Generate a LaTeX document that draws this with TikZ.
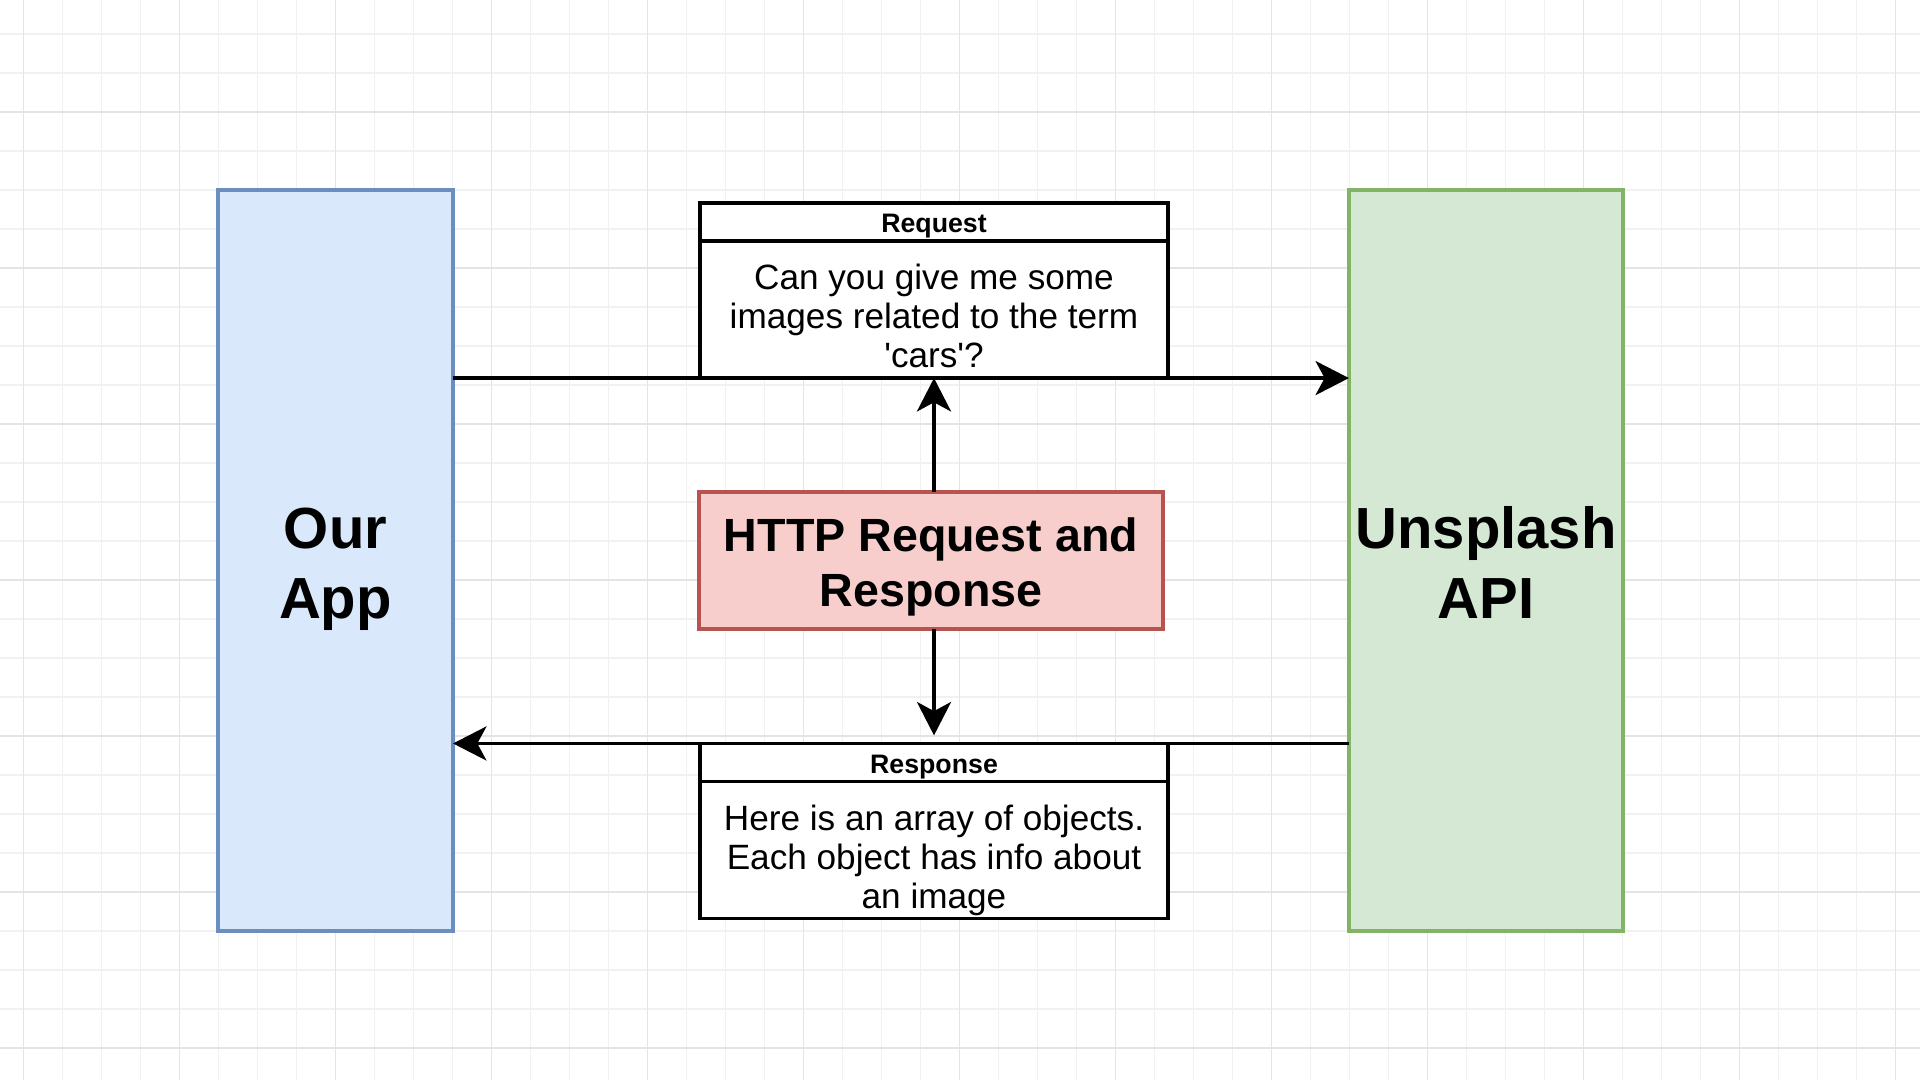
\documentclass[tikz,border=0pt]{standalone}
\usepackage{fontspec}
\setmainfont{Liberation Sans}
\usetikzlibrary{positioning,arrows.meta}

\definecolor{appfill}{HTML}{DAE8FC}
\definecolor{appline}{HTML}{6C8EBF}
\definecolor{apifill}{HTML}{D5E8D4}
\definecolor{apiline}{HTML}{82B366}
\definecolor{httpfill}{HTML}{F8CECC}
\definecolor{httpline}{HTML}{B85450}
\definecolor{gridminor}{HTML}{F1F1F1}
\definecolor{gridmajor}{HTML}{E4E4E4}

\newcommand\ftop[1][1em]{\rule{0pt}{#1}}
\newcommand\fbot{\rule[-0.2em]{0pt}{0pt}}

\begin{document}
\begin{tikzpicture}[x=0.01cm, y=-0.01cm,
  every node/.style = {shape=rectangle, inner sep=0pt, outer sep=0pt, align=center},
  bigbox/.style = {draw, line width=1.1pt, minimum height=7.41cm,
    font=\fontsize{16.5}{19.8}\selectfont\bfseries},
  headbox/.style = {draw=black, fill=white, line width=1pt, minimum width=4.68cm,
    minimum height=0.38cm, font=\fontsize{7.6}{9}\selectfont\bfseries},
  bodybox/.style = {draw=black, fill=white, line width=1pt, minimum width=4.68cm,
    minimum height=1.37cm, font=\fontsize{10}{11.15}\selectfont},
  wire/.style = {line width=0.9pt},
  link/.style = {wire, -{Stealth[length=9.5pt, width=9.7pt, inset=2.6pt]}}]
  \useasboundingbox[fill=white] (0,0) rectangle (1920,1080);
  \foreach \k in {0,...,49}
    \draw[gridminor, line width=0.3pt] ({23.3+39*\k},0) -- ({23.3+39*\k},1080);
  \foreach \k in {0,...,27}
    \draw[gridminor, line width=0.3pt] (0,{34+39*\k}) -- (1920,{34+39*\k});
  \foreach \k in {0,...,12}
    \draw[gridmajor, line width=0.3pt] ({23.3+156*\k},0) -- ({23.3+156*\k},1080);
  \foreach \k in {0,...,6}
    \draw[gridmajor, line width=0.3pt] (0,{112+156*\k}) -- (1920,{112+156*\k});

  \node[bigbox, fill=appfill, draw=appline, minimum width=2.35cm] (app) at (335.5,560.5)
    {\ftop Our\\App\fbot};
  \node[bigbox, fill=apifill, draw=apiline, minimum width=2.74cm] (api) at (1486,560.5)
    {\ftop Unsplash\\API\fbot};
  \node[draw=httpline, fill=httpfill, line width=1.1pt, minimum width=4.64cm, minimum height=1.37cm,
    font=\fontsize{13.25}{15.7}\selectfont\bfseries] (http) at (931,560.5)
    {\ftop HTTP Request and\\Response\fbot};
  \node[headbox] (reqhead) at (934,222) {\ftop Request\fbot};
  \node[bodybox, below=0pt of reqhead] (reqbody)
    {\ftop[1.28em]Can you give me some\\images related to the term\\\textquotesingle cars\textquotesingle?\fbot};
  \node[headbox] (reshead) at (934,762.5) {\ftop Response\fbot};
  \node[bodybox, below=0pt of reshead] (resbody)
    {\ftop[1.32em]Here is an array of objects.\\Each object has info about\\an image\fbot};

  \draw[wire] (app.east |- reqbody.south) -- (reqbody.south west);
  \draw[link] (reqbody.south east) -- (api.west |- reqbody.south);
  \draw[wire] (api.west |- reshead.north) -- (reshead.north east);
  \draw[link] (reshead.north west) -- (app.east |- reshead.north);
  \draw[link] (reqbody.south |- http.north) -- (reqbody.south);
  \draw[link, shorten >=2.3pt] (reshead.north |- http.south) -- (reshead.north);
\end{tikzpicture}
\end{document}
